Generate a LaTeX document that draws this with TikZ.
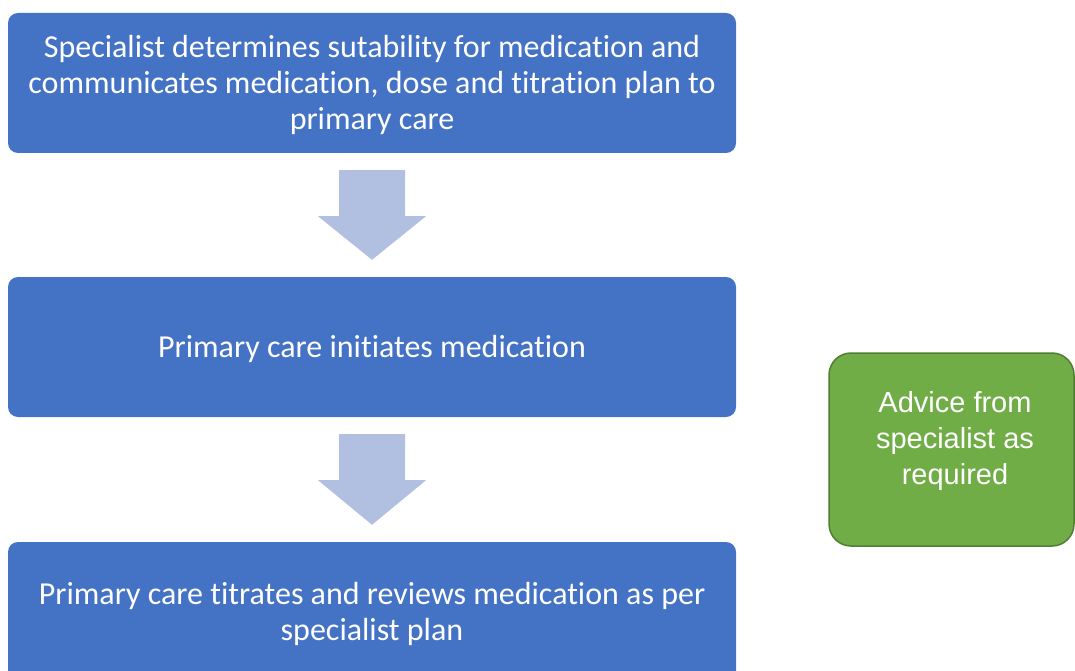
\documentclass[tikz,border=0pt]{standalone}
\usepackage{fontspec}
\setmainfont[Ligatures=NoCommon]{Carlito}
\newfontfamily\arialfont{Liberation Sans}
\usetikzlibrary{calc}
\definecolor{boxblue}{HTML}{4472C4}
\definecolor{arrowblue}{HTML}{B1BFE1}
\definecolor{advgreen}{HTML}{70AD47}
\definecolor{advborder}{HTML}{507E32}
\begin{document}
\begin{tikzpicture}[x=1pt,y=-1pt,
  stepbox/.style={fill=boxblue, rounded corners=10pt, minimum width=728pt,
    minimum height=140pt, inner sep=0pt},
  steptext/.style={text=white, align=center, inner sep=0pt,
    font=\fontsize{32}{36}\selectfont},
  advbox/.style={fill=advgreen, draw=advborder, line width=1.5pt,
    rounded corners=22pt, minimum width=245pt, minimum height=193pt, inner sep=0pt},
  advtext/.style={text=white, align=center, inner sep=0pt,
    font=\arialfont\fontsize{29}{36}\selectfont},
  blockarrow/.style={fill=arrowblue}
]
\useasboundingbox (0,0) rectangle (1075,671);
\clip (0,0) rectangle (1075,671);
\node[stepbox] (top) at (372,83) {};
\node[stepbox] (mid) at (372,347) {};
\node[stepbox] (bot) at (372,612) {};
\node[steptext] (toplabel) at ($(top.center)+(0,2)$) {Specialist determines sutability for medication and\\communicates medication, dose and titration plan to\\primary care};
\node[steptext] (midlabel) at ($(mid.center)+(0,2)$) {Primary care initiates medication};
\node[steptext] (botlabel) at ($(bot.center)+(0,2)$) {Primary care titrates and reviews medication as per\\specialist plan};
\node[advbox] (adv) at (951.5,449.5) {};
\node[advtext] (advlabel) at ($(adv.center)+(3.5,-8.5)$) {Advice from\\specialist as\\required};
\foreach \a/\b in {top/mid, mid/bot} {
  \fill[blockarrow] ($(\a.south)+(-33,17)$) -- ($(\a.south)+(33,17)$)
    -- ($(\a.south)+(33,63)$) -- ($(\a.south)+(54,63)$)
    -- ($(\b.north)+(0,-17)$) -- ($(\a.south)+(-54,63)$)
    -- ($(\a.south)+(-33,63)$) -- cycle;
}
\end{tikzpicture}
\end{document}
